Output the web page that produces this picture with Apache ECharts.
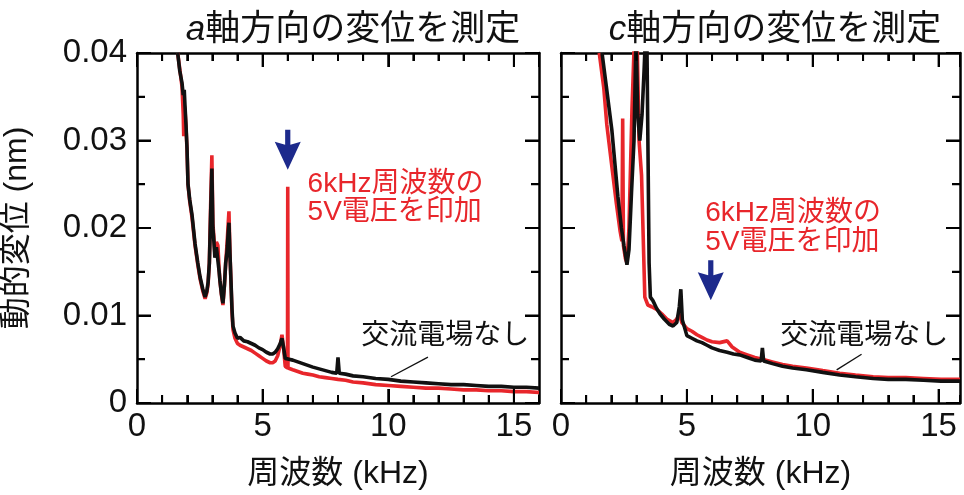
<!DOCTYPE html>
<html><head><meta charset="utf-8">
<script src="https://cdn.jsdelivr.net/npm/echarts@6/dist/echarts.min.js"></script>
<style>html,body{margin:0;padding:0;background:#fff}#c{width:964px;height:495px}</style>
</head><body><div id="c"></div>
<script>
// ---------- data ----------
const xTickLabels = ['0', '5', '10', '15'];
const yTickLabels = ['0', '0.01', '0.02', '0.03', '0.04'];
const panelTitles = ['軸方向の変位を測定', '軸方向の変位を測定'];
const panelAxisLetters = ['a', 'c'];
const xAxisName = '周波数 (kHz)';
const yAxisName = '動的変位 (nm)';
const noFieldLabel = '交流電場なし';
const appliedLabel = ['6kHz周波数の', '5V電圧を印加'];

// a-axis panel, no AC field (black)
const aBlackX = [1.62,1.70,1.79,1.84,1.88,1.91,1.95,1.99,2.03,2.10,2.19,2.31,2.42,2.51,2.62,2.71,2.78,2.83,2.88,2.93,2.98,3.02,3.06,3.10,3.16,3.22,3.27,3.30,3.36,3.42,3.48,3.53,3.58,3.63,3.66,3.70,3.74,3.78,3.82,3.90,4.00,4.10,4.25,4.40,4.55,4.70,4.85,5.00,5.15,5.30,5.40,5.50,5.60,5.70,5.77,5.83,5.90,5.96,6.05,6.20,6.40,6.60,6.80,7.00,7.25,7.50,7.75,7.95,8.00,8.05,8.30,8.60,9.00,9.50,10.0,10.5,11.0,11.5,12.0,12.5,13.0,13.5,14.0,14.5,15.0,15.5,16.0];
const aBlackY = [0.0400,0.0380,0.0366,0.0352,0.0358,0.0340,0.0318,0.0292,0.0250,0.0232,0.0215,0.0182,0.0160,0.0144,0.0130,0.0121,0.0128,0.0138,0.0160,0.0215,0.0268,0.0200,0.0185,0.0166,0.0178,0.0176,0.0150,0.0140,0.0125,0.0114,0.0135,0.0160,0.0172,0.0195,0.0206,0.0170,0.0140,0.0108,0.0088,0.0080,0.0074,0.0075,0.0071,0.0070,0.0068,0.0066,0.0063,0.0061,0.0058,0.0056,0.0056,0.0058,0.0062,0.0068,0.0074,0.0064,0.0051,0.0049,0.0050,0.0049,0.0047,0.0045,0.0043,0.0041,0.0039,0.0037,0.0035,0.0034,0.0052,0.0034,0.0033,0.0031,0.0030,0.0028,0.0027,0.0025,0.0024,0.0023,0.0022,0.0021,0.0021,0.0020,0.0019,0.0019,0.0018,0.0018,0.0017];
// a-axis panel, 6 kHz 5 V applied (red)
const aRedX = [1.62,1.70,1.79,1.84,1.86,1.88,1.91,1.95,1.99,2.03,2.10,2.19,2.31,2.42,2.51,2.62,2.71,2.78,2.83,2.88,2.93,2.98,3.02,3.06,3.10,3.16,3.22,3.27,3.30,3.36,3.42,3.48,3.53,3.58,3.63,3.66,3.70,3.74,3.78,3.82,3.90,4.00,4.10,4.25,4.40,4.55,4.70,4.85,5.00,5.15,5.30,5.40,5.50,5.60,5.70,5.77,5.83,5.90,5.96,5.99,6.00,6.01,6.05,6.20,6.40,6.60,6.80,7.00,7.25,7.50,7.75,8.00,8.30,8.60,9.00,9.50,10.0,10.5,11.0,11.5,12.0,12.5,13.0,13.5,14.0,14.5,15.0,15.5,16.0];
const aRedY = [0.0400,0.0382,0.0362,0.0330,0.0305,0.0340,0.0335,0.0315,0.0290,0.0250,0.0230,0.0212,0.0180,0.0158,0.0142,0.0128,0.0119,0.0126,0.0136,0.0160,0.0225,0.0283,0.0205,0.0190,0.0170,0.0184,0.0180,0.0152,0.0140,0.0124,0.0112,0.0134,0.0160,0.0180,0.0205,0.0219,0.0172,0.0138,0.0104,0.0084,0.0074,0.0068,0.0066,0.0064,0.0062,0.0060,0.0057,0.0054,0.0051,0.0048,0.0046,0.0046,0.0048,0.0054,0.0066,0.0078,0.0064,0.0042,0.0040,0.0040,0.0247,0.0040,0.0039,0.0038,0.0036,0.0034,0.0033,0.0032,0.0030,0.0029,0.0028,0.0027,0.0026,0.0024,0.0023,0.0021,0.0020,0.0019,0.0018,0.0017,0.0017,0.0016,0.0015,0.0015,0.0014,0.0014,0.0013,0.0013,0.0012];

// c-axis panel, no AC field (black)
const cBlackX = [1.63,1.80,2.02,2.26,2.40,2.50,2.62,2.70,2.80,2.90,2.98,3.05,3.13,3.22,3.30,3.40,3.45,3.50,3.55,3.65,3.80,3.93,4.10,4.30,4.45,4.60,4.70,4.76,4.82,5.00,5.20,5.40,5.60,5.80,6.00,6.30,6.60,6.85,7.10,7.40,7.70,7.95,8.00,8.05,8.40,8.80,9.20,9.75,10.4,11.07,11.7,12.4,13.0,13.7,14.4,15.1,15.85];
const cBlackY = [0.0400,0.0362,0.0312,0.0236,0.0200,0.0180,0.0158,0.0175,0.0240,0.0300,0.0420,0.0330,0.0300,0.0330,0.0380,0.0450,0.0450,0.0160,0.0121,0.0117,0.0108,0.0102,0.0096,0.0090,0.0088,0.0092,0.0110,0.0130,0.0095,0.0077,0.0074,0.0071,0.0069,0.0066,0.0063,0.0060,0.0058,0.0056,0.0055,0.0052,0.0049,0.0048,0.0063,0.0048,0.0045,0.0042,0.0040,0.0038,0.0035,0.0032,0.0030,0.0028,0.0027,0.0027,0.0026,0.0025,0.0025];
// c-axis panel, 6 kHz 5 V applied (red)
const cRedX = [1.52,1.70,1.82,2.00,2.20,2.35,2.42,2.45,2.48,2.56,2.62,2.70,2.82,2.92,3.00,3.10,3.20,3.33,3.45,3.60,3.80,4.00,4.20,4.45,4.60,4.70,4.80,5.00,5.20,5.40,5.60,5.80,6.00,6.30,6.60,6.80,7.10,7.40,7.70,8.00,8.40,8.80,9.20,9.75,10.4,11.07,11.7,12.4,13.0,13.7,14.4,15.1,15.85];
const cRedY = [0.0400,0.0360,0.0318,0.0275,0.0228,0.0196,0.0185,0.0325,0.0180,0.0165,0.0160,0.0200,0.0336,0.0420,0.0450,0.0300,0.0260,0.0121,0.0112,0.0110,0.0107,0.0102,0.0096,0.0092,0.0096,0.0102,0.0092,0.0085,0.0082,0.0078,0.0075,0.0072,0.0070,0.0069,0.0071,0.0064,0.0058,0.0055,0.0052,0.0050,0.0047,0.0044,0.0042,0.0040,0.0037,0.0034,0.0032,0.0030,0.0029,0.0029,0.0028,0.0027,0.0027];

// ---------- styles / layout ----------
const FONT = '"Liberation Sans","Noto Sans CJK JP",sans-serif';
const BLACK = '#111111', RED = '#e8262b', BLUE = '#1d2a8c';
const xMax = [16, 15.85];
const ARROW_PATH = 'path://M10.4,0 L15.6,0 L15.6,15 L26,12 L13,40 L0,12 L10.4,15 Z';

// annotation anchors (data coordinates) per panel
const annotations = [
  {arrow: [6.0, 0.02895], text: [6.77, 0.0250, 0.0218], none: [8.91, 0.0076], leader: [11.58, 0.00524, 10.11, 0.0030]},
  {arrow: [5.95, 0.01403], text: [5.71, 0.0217, 0.0184], none: [8.69, 0.0076], leader: [11.94, 0.00557, 10.95, 0.00379]}
];

function zip(xs, ys) { return xs.map((x, i) => [x, ys[i]]); }
function mkTick(len) { return {show: true, inside: true, length: len, lineStyle: {color: '#000', width: 2}}; }
function mkLine(show) { return {show: show, onZero: false, lineStyle: {color: '#000', width: 2.5}}; }

function xAxis(g, pos, major) {
  const ax = {
    type: 'value', gridIndex: g, min: 0, max: xMax[g], interval: major ? 5 : 1, position: pos,
    splitLine: {show: false}, axisLine: mkLine(major), axisTick: mkTick(major ? 14 : 8),
    axisLabel: {show: false}
  };
  if (major && pos === 'bottom') {
    ax.axisLabel = {show: true, showMaxLabel: false, margin: 7, fontSize: 33, color: '#111', fontFamily: FONT};
    ax.name = xAxisName; ax.nameLocation = 'middle'; ax.nameGap = 55;
    ax.nameTextStyle = {fontSize: 32, color: '#111', fontFamily: FONT};
  }
  return ax;
}

function yAxis(g, pos) {
  const ax = {
    type: 'value', gridIndex: g, min: 0, max: 0.04, interval: 0.01, position: pos,
    splitLine: {show: false}, axisLine: mkLine(true), axisTick: mkTick(14),
    minorTick: {show: true, splitNumber: 2, length: 8, lineStyle: {color: '#000', width: 2}},
    axisLabel: {show: false}
  };
  if (g === 0 && pos === 'left') {
    ax.axisLabel = {show: true, margin: 10, fontSize: 33, color: '#111', fontFamily: FONT};
    ax.name = yAxisName; ax.nameLocation = 'middle'; ax.nameGap = 104;
    ax.nameTextStyle = {fontSize: 32, color: '#111', fontFamily: FONT};
  }
  return ax;
}

function lineSeries(xIdx, yIdx, data, color, z, ann) {
  const s = {type: 'line', xAxisIndex: xIdx, yAxisIndex: yIdx, data, showSymbol: false,
    z, lineStyle: {color, width: 3.6}};
  if (ann) {
    const txt = (c, str, col) => ({coord: c, symbol: 'circle', symbolSize: 1, itemStyle: {color: 'rgba(0,0,0,0)'},
      label: {show: true, position: 'right', distance: 0, formatter: str, color: col, fontSize: 28, fontFamily: FONT}});
    s.markPoint = {silent: true, animation: false, data: [
      {coord: ann.arrow, symbol: ARROW_PATH, symbolSize: [26, 40], itemStyle: {color: BLUE}, label: {show: false}},
      txt([ann.text[0], ann.text[1]], appliedLabel[0], RED),
      txt([ann.text[0], ann.text[2]], appliedLabel[1], RED),
      txt(ann.none, noFieldLabel, '#111')
    ]};
    s.markLine = {silent: true, animation: false, symbol: ['none', 'none'], label: {show: false},
      lineStyle: {color: '#111', width: 1.3, type: 'solid'},
      data: [[{coord: [ann.leader[0], ann.leader[1]]}, {coord: [ann.leader[2], ann.leader[3]]}]]};
  }
  return s;
}

const xAxes = [], yAxes = [];
[0, 1].forEach(g => {
  xAxes.push(xAxis(g, 'bottom', true), xAxis(g, 'bottom', false), xAxis(g, 'top', true), xAxis(g, 'top', false));
  yAxes.push(yAxis(g, 'left'), yAxis(g, 'right'));
});

const chart = echarts.init(document.getElementById('c'));
chart.setOption({
  backgroundColor: '#fff',
  animation: false,
  title: [0, 1].map(g => ({
    text: '{i|' + panelAxisLetters[g] + '}' + panelTitles[g],
    left: g === 0 ? 348 : 770, top: 8, textAlign: 'center',
    textStyle: {fontSize: 35, fontWeight: 'normal', color: '#111', fontFamily: FONT,
      rich: {i: {fontSize: 35, fontStyle: 'italic', color: '#111', fontFamily: FONT}}}
  })),
  grid: [
    {left: 137, top: 53, width: 402, height: 359},
    {left: 561, top: 53, width: 399, height: 359}
  ],
  xAxis: xAxes,
  yAxis: yAxes,
  series: [
    lineSeries(0, 0, zip(aRedX, aRedY), RED, 2),
    lineSeries(0, 0, zip(aBlackX, aBlackY), BLACK, 3, annotations[0]),
    lineSeries(4, 2, zip(cRedX, cRedY), RED, 2),
    lineSeries(4, 2, zip(cBlackX, cBlackY), BLACK, 3, annotations[1])
  ]
});

// ---------- inward tick marks on all four sides, placed through the axes' own scales ----------
const tickGraphics = [];
[0, 1].forEach(g => {
  const P = (x, y) => chart.convertToPixel({xAxisIndex: 4 * g, yAxisIndex: 2 * g}, [x, y]);
  const origin = P(0, 0), topLeft = P(0, 0.04), rightEnd = P(xMax[g], 0);
  const yB = origin[1], yT = topLeft[1], xL = origin[0], xR = rightEnd[0];
  const seg = (x1, y1, x2, y2) => tickGraphics.push({type: 'line', z: 5, silent: true,
    shape: {x1, y1, x2, y2}, style: {stroke: '#000', lineWidth: 2}});
  for (let k = 1; k <= Math.floor(xMax[g]); k++) {
    const px = P(k, 0)[0];
    if (px > xR - 1) continue;
    const len = k % 5 === 0 ? 14 : 8;
    seg(px, yB, px, yB - len);
    seg(px, yT, px, yT + len);
  }
  for (let m = 1; m < 8; m++) {
    const py = P(0, m * 0.005)[1];
    const len = m % 2 === 0 ? 14 : 8;
    seg(xL, py, xL + len, py);
    seg(xR, py, xR - len, py);
  }
});
chart.setOption({graphic: tickGraphics});
</script>
</body></html>
